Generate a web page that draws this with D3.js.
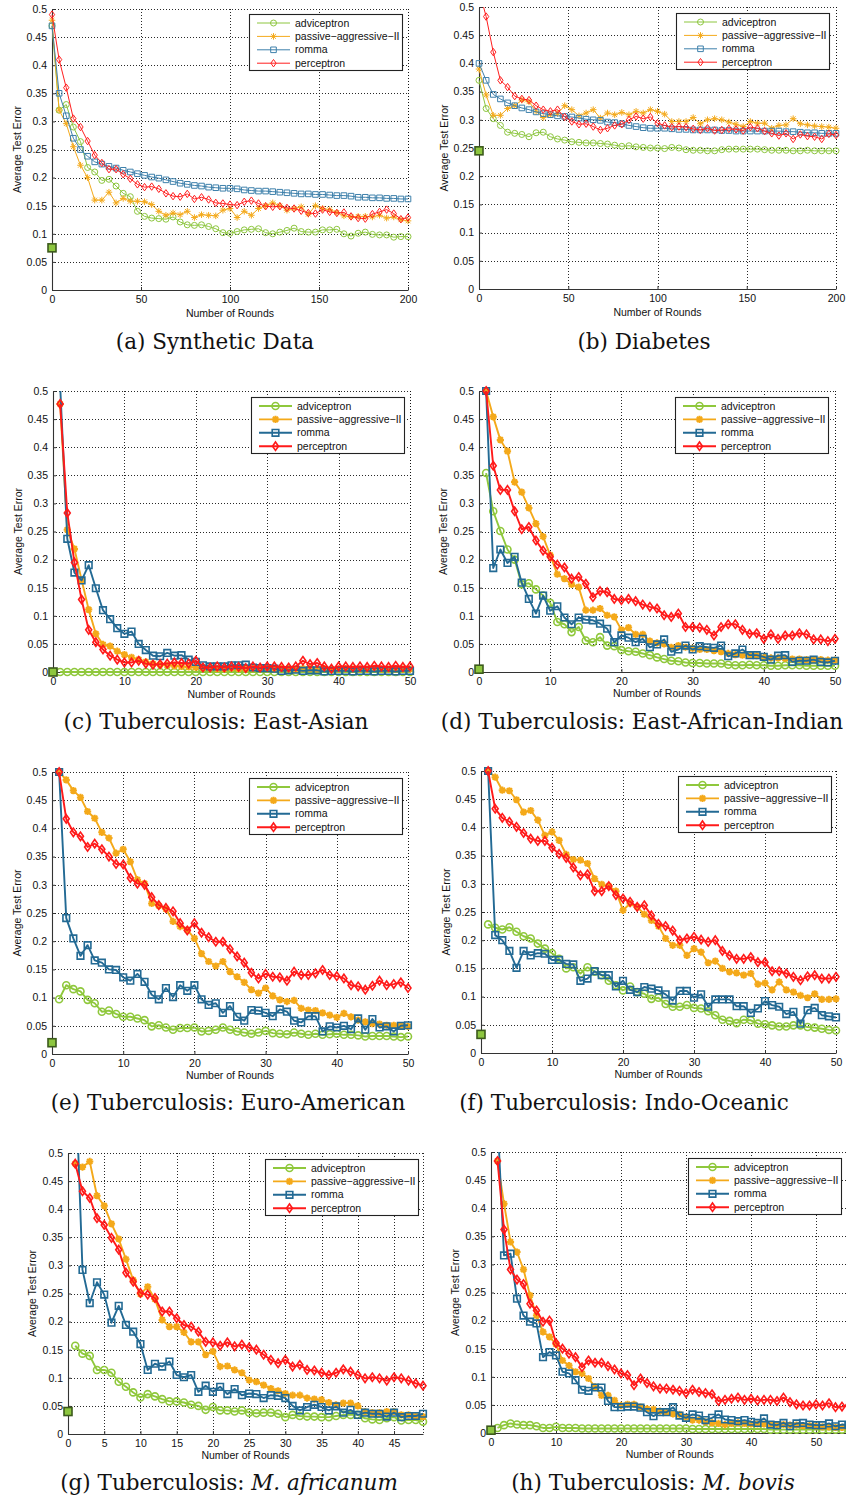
<!DOCTYPE html>
<html>
<head>
<meta charset="utf-8">
<script src="https://cdn.jsdelivr.net/npm/d3@7/dist/d3.min.js"></script>
<style>
  body { margin: 0; background: #fff; }
  svg { display: block; }
</style>
</head>
<body>
<div id="chart"></div>
<script>
// ---- data ----
// (a),(b): one value every 4 rounds from round 0; (c)-(h): one value per round from round 1
var seriesNames = ['adviceptron', 'passive\u2212aggressive\u2212II', 'romma', 'perceptron'];
var yTicks = [0, 0.05, 0.1, 0.15, 0.2, 0.25, 0.3, 0.35, 0.4, 0.45, 0.5];
var yTickLabels = ['0', '0.05', '0.1', '0.15', '0.2', '0.25', '0.3', '0.35', '0.4', '0.45', '0.5'];
var xTicksLong = [0, 50, 100, 150, 200];
var xTicksTen = [0, 10, 20, 30, 40, 50];
var xTicksFive = [0, 5, 10, 15, 20, 25, 30, 35, 40, 45];

// (a) Synthetic Data
var aAdvice = [0.47,0.32,0.33,0.29,0.264,0.218,0.21,0.195,0.197,0.185,0.172,0.166,0.14,0.131,0.128,0.127,0.126,0.13,0.121,0.116,0.115,0.116,0.113,0.109,0.102,0.101,0.104,0.107,0.108,0.109,0.102,0.1,0.103,0.106,0.11,0.104,0.103,0.103,0.107,0.107,0.108,0.1,0.096,0.101,0.103,0.099,0.098,0.098,0.094,0.095,0.095];
var aPA = [0.48,0.32,0.296,0.255,0.222,0.2,0.16,0.16,0.174,0.155,0.163,0.158,0.158,0.157,0.152,0.14,0.133,0.137,0.134,0.14,0.129,0.134,0.133,0.132,0.142,0.145,0.129,0.14,0.133,0.145,0.15,0.155,0.15,0.142,0.145,0.148,0.135,0.15,0.145,0.143,0.138,0.132,0.13,0.131,0.131,0.13,0.133,0.128,0.13,0.125,0.123];
var aRomma = [0.47,0.35,0.31,0.27,0.25,0.238,0.228,0.224,0.22,0.217,0.213,0.21,0.207,0.204,0.201,0.199,0.196,0.193,0.19,0.188,0.186,0.185,0.183,0.182,0.181,0.181,0.18,0.178,0.177,0.176,0.176,0.175,0.174,0.173,0.172,0.171,0.171,0.17,0.17,0.169,0.168,0.168,0.167,0.165,0.165,0.164,0.164,0.163,0.163,0.162,0.162];
var aPerc = [0.49,0.41,0.36,0.305,0.29,0.265,0.24,0.226,0.215,0.215,0.206,0.198,0.188,0.183,0.184,0.18,0.172,0.167,0.166,0.171,0.162,0.165,0.161,0.155,0.154,0.152,0.151,0.157,0.159,0.154,0.149,0.148,0.149,0.146,0.145,0.141,0.137,0.136,0.143,0.139,0.137,0.138,0.131,0.128,0.127,0.135,0.139,0.143,0.136,0.126,0.129];
var aStart = 0.075;

// (b) Diabetes
var bAdvice = [0.37,0.32,0.302,0.29,0.278,0.276,0.274,0.27,0.277,0.278,0.27,0.266,0.264,0.261,0.26,0.259,0.259,0.258,0.257,0.255,0.253,0.254,0.252,0.251,0.25,0.25,0.249,0.251,0.25,0.247,0.246,0.246,0.245,0.245,0.247,0.248,0.248,0.248,0.248,0.248,0.247,0.246,0.246,0.246,0.245,0.245,0.246,0.245,0.245,0.245,0.245];
var bPA = [0.39,0.344,0.308,0.308,0.32,0.325,0.335,0.332,0.315,0.304,0.309,0.311,0.325,0.318,0.307,0.312,0.318,0.303,0.312,0.309,0.313,0.309,0.315,0.312,0.318,0.315,0.31,0.297,0.297,0.297,0.304,0.293,0.3,0.302,0.3,0.296,0.292,0.288,0.297,0.294,0.294,0.285,0.29,0.291,0.302,0.293,0.291,0.289,0.288,0.287,0.285];
var bRomma = [0.4,0.37,0.345,0.337,0.33,0.325,0.321,0.318,0.314,0.311,0.309,0.307,0.306,0.305,0.303,0.301,0.3,0.299,0.296,0.295,0.293,0.29,0.288,0.286,0.285,0.285,0.285,0.284,0.283,0.283,0.282,0.282,0.282,0.282,0.281,0.281,0.28,0.28,0.28,0.28,0.28,0.28,0.28,0.279,0.279,0.278,0.277,0.277,0.276,0.276,0.276];
var bPerc = [0.53,0.483,0.42,0.37,0.358,0.342,0.337,0.335,0.325,0.318,0.315,0.318,0.305,0.297,0.292,0.293,0.288,0.282,0.285,0.29,0.292,0.3,0.306,0.302,0.305,0.294,0.29,0.287,0.288,0.287,0.284,0.282,0.285,0.281,0.282,0.284,0.283,0.281,0.287,0.285,0.28,0.276,0.272,0.276,0.266,0.274,0.271,0.27,0.266,0.275,0.273];
var bStart = 0.245;

// (c) East-Asian
var cAdvice = [0,0,0,0,0,0,0,0,0,0,0,0,0,0,0,0,0,0,0,0,0,0,0,0,0,0,0,0,0,0,0,0,0,0,0,0,0,0,0,0,0,0,0,0,0,0,0,0,0,0];
var cPA = [0.477,0.253,0.219,0.164,0.111,0.068,0.049,0.046,0.037,0.031,0.026,0.022,0.018,0.015,0.013,0.012,0.011,0.01,0.009,0.008,0.007,0.007,0.006,0.006,0.007,0.006,0.006,0.006,0.006,0.006,0.005,0.006,0.006,0.005,0.006,0.006,0.005,0.006,0.005,0.005,0.006,0.005,0.005,0.005,0.006,0.005,0.005,0.005,0.005,0.005];
var cRomma = [0.51,0.237,0.177,0.163,0.19,0.149,0.11,0.094,0.078,0.068,0.072,0.05,0.039,0.029,0.028,0.034,0.029,0.03,0.022,0.018,0.012,0.01,0.01,0.01,0.012,0.012,0.013,0.008,0.007,0.007,0.006,0.002,0.003,0.004,0.002,0.003,0.003,0.001,0.002,0.002,0.002,0.001,0.002,0.002,0.001,0.002,0.002,0.001,0.002,0.002];
var cPerc = [0.477,0.283,0.195,0.129,0.075,0.053,0.04,0.029,0.022,0.017,0.017,0.02,0.015,0.013,0.014,0.015,0.017,0.016,0.015,0.02,0.008,0.008,0.01,0.008,0.01,0.009,0.007,0.01,0.008,0.01,0.01,0.009,0.008,0.01,0.02,0.014,0.016,0.01,0.006,0.01,0.01,0.009,0.01,0.009,0.011,0.01,0.009,0.011,0.009,0.01];
var cStart = 0;

// (d) East-African-Indian
var dAdvice = [0.354,0.286,0.251,0.218,0.2,0.156,0.158,0.147,0.136,0.123,0.089,0.085,0.071,0.08,0.056,0.053,0.062,0.047,0.046,0.039,0.037,0.036,0.033,0.03,0.026,0.023,0.02,0.019,0.017,0.016,0.016,0.015,0.015,0.015,0.013,0.012,0.012,0.013,0.012,0.012,0.011,0.011,0.012,0.012,0.012,0.011,0.011,0.011,0.011,0.011];
var dPA = [0.5,0.454,0.413,0.393,0.338,0.32,0.292,0.264,0.241,0.208,0.174,0.166,0.156,0.151,0.11,0.11,0.113,0.101,0.098,0.075,0.079,0.067,0.067,0.055,0.052,0.05,0.044,0.047,0.044,0.042,0.04,0.04,0.038,0.036,0.033,0.031,0.03,0.03,0.029,0.027,0.025,0.025,0.024,0.023,0.023,0.022,0.022,0.022,0.021,0.021];
var dRomma = [0.5,0.185,0.218,0.194,0.205,0.159,0.13,0.104,0.136,0.109,0.117,0.097,0.085,0.097,0.093,0.092,0.086,0.077,0.053,0.065,0.061,0.053,0.059,0.044,0.049,0.058,0.036,0.04,0.047,0.04,0.046,0.044,0.043,0.047,0.028,0.033,0.04,0.03,0.03,0.027,0.022,0.029,0.03,0.018,0.02,0.02,0.022,0.018,0.017,0.02];
var dPerc = [0.5,0.367,0.324,0.324,0.286,0.254,0.258,0.234,0.216,0.205,0.191,0.186,0.166,0.169,0.157,0.133,0.144,0.142,0.13,0.128,0.13,0.126,0.12,0.116,0.113,0.101,0.098,0.104,0.08,0.08,0.079,0.075,0.065,0.08,0.085,0.085,0.075,0.068,0.069,0.059,0.067,0.059,0.065,0.065,0.069,0.067,0.058,0.058,0.055,0.059];
var dStart = 0.005;

// (e) Euro-American
var eAdvice = [0.097,0.122,0.115,0.111,0.096,0.09,0.075,0.077,0.071,0.066,0.066,0.063,0.06,0.049,0.051,0.047,0.043,0.046,0.046,0.047,0.04,0.041,0.043,0.047,0.043,0.04,0.038,0.036,0.038,0.041,0.037,0.036,0.035,0.038,0.036,0.034,0.036,0.034,0.035,0.036,0.034,0.034,0.033,0.031,0.032,0.032,0.032,0.031,0.03,0.031];
var ePA = [0.5,0.486,0.467,0.455,0.43,0.418,0.393,0.383,0.356,0.363,0.341,0.309,0.302,0.267,0.263,0.257,0.235,0.226,0.22,0.205,0.178,0.164,0.156,0.164,0.146,0.137,0.127,0.114,0.108,0.117,0.103,0.096,0.093,0.095,0.081,0.078,0.077,0.073,0.069,0.065,0.072,0.066,0.06,0.057,0.054,0.053,0.051,0.051,0.05,0.049];
var eRomma = [0.5,0.241,0.205,0.174,0.193,0.166,0.162,0.15,0.149,0.136,0.13,0.142,0.128,0.105,0.097,0.117,0.101,0.122,0.112,0.122,0.097,0.087,0.09,0.073,0.085,0.066,0.059,0.078,0.077,0.073,0.067,0.079,0.075,0.059,0.056,0.067,0.067,0.04,0.049,0.047,0.05,0.044,0.063,0.043,0.062,0.047,0.049,0.04,0.05,0.051];
var ePerc = [0.5,0.417,0.393,0.386,0.367,0.373,0.363,0.35,0.337,0.336,0.312,0.302,0.3,0.278,0.264,0.259,0.253,0.232,0.219,0.232,0.215,0.207,0.199,0.199,0.186,0.173,0.162,0.144,0.134,0.142,0.137,0.136,0.13,0.146,0.14,0.14,0.143,0.149,0.14,0.138,0.134,0.122,0.12,0.114,0.121,0.13,0.122,0.124,0.127,0.117];
var eStart = 0.02;

// (f) Indo-Oceanic
var fAdvice = [0.228,0.222,0.219,0.223,0.215,0.207,0.203,0.194,0.185,0.177,0.167,0.15,0.152,0.141,0.152,0.144,0.138,0.128,0.12,0.111,0.118,0.108,0.105,0.096,0.098,0.087,0.082,0.082,0.085,0.08,0.079,0.074,0.067,0.059,0.057,0.053,0.059,0.058,0.052,0.051,0.049,0.047,0.047,0.049,0.049,0.046,0.045,0.043,0.041,0.04];
var fPA = [0.5,0.489,0.466,0.465,0.449,0.427,0.43,0.413,0.386,0.392,0.377,0.352,0.343,0.342,0.336,0.309,0.299,0.296,0.287,0.253,0.265,0.259,0.246,0.235,0.225,0.203,0.191,0.191,0.173,0.185,0.179,0.16,0.163,0.15,0.144,0.142,0.138,0.141,0.122,0.124,0.112,0.126,0.112,0.108,0.102,0.098,0.105,0.095,0.095,0.096];
var fRomma = [0.5,0.209,0.2,0.181,0.151,0.181,0.173,0.177,0.176,0.165,0.165,0.158,0.157,0.128,0.132,0.145,0.138,0.138,0.118,0.128,0.112,0.108,0.117,0.114,0.111,0.104,0.093,0.11,0.11,0.098,0.104,0.082,0.095,0.095,0.095,0.083,0.083,0.071,0.079,0.092,0.085,0.082,0.069,0.073,0.052,0.076,0.08,0.067,0.065,0.063];
var fPerc = [0.5,0.433,0.417,0.41,0.401,0.39,0.38,0.376,0.376,0.364,0.353,0.346,0.329,0.315,0.317,0.287,0.287,0.296,0.28,0.274,0.268,0.259,0.262,0.244,0.229,0.225,0.217,0.2,0.203,0.206,0.201,0.197,0.2,0.181,0.173,0.167,0.167,0.17,0.161,0.161,0.145,0.145,0.141,0.135,0.129,0.136,0.138,0.132,0.132,0.135];
var fStart = 0.033;

// (g) M. africanum
var gAdvice = [0.157,0.143,0.139,0.114,0.114,0.109,0.093,0.084,0.074,0.065,0.071,0.067,0.062,0.058,0.058,0.056,0.052,0.05,0.043,0.048,0.042,0.042,0.04,0.042,0.038,0.037,0.038,0.038,0.036,0.03,0.034,0.032,0.031,0.031,0.03,0.03,0.032,0.034,0.034,0.034,0.028,0.026,0.025,0.028,0.03,0.024,0.025,0.025,0.022];
var gPA = [0.481,0.475,0.485,0.424,0.406,0.374,0.347,0.311,0.274,0.249,0.262,0.24,0.203,0.191,0.191,0.181,0.164,0.164,0.141,0.147,0.12,0.121,0.114,0.109,0.096,0.093,0.087,0.081,0.077,0.072,0.069,0.069,0.064,0.062,0.061,0.056,0.052,0.055,0.055,0.05,0.04,0.038,0.038,0.04,0.04,0.034,0.034,0.032,0.031];
var gRomma = [0.65,0.292,0.233,0.27,0.248,0.198,0.228,0.194,0.182,0.16,0.114,0.125,0.12,0.129,0.105,0.101,0.105,0.075,0.086,0.075,0.084,0.071,0.08,0.069,0.072,0.071,0.064,0.069,0.068,0.064,0.05,0.042,0.048,0.052,0.048,0.042,0.049,0.038,0.043,0.034,0.038,0.036,0.036,0.031,0.038,0.03,0.032,0.032,0.036];
var gPerc = [0.481,0.432,0.42,0.384,0.372,0.349,0.328,0.287,0.271,0.251,0.248,0.242,0.218,0.218,0.206,0.194,0.191,0.182,0.164,0.163,0.157,0.163,0.156,0.159,0.154,0.15,0.141,0.132,0.126,0.132,0.12,0.123,0.114,0.113,0.109,0.105,0.109,0.115,0.111,0.105,0.099,0.101,0.099,0.095,0.101,0.099,0.095,0.09,0.086];
var gStart = 0.04;

// (h) M. bovis
var hAdvice = [0.009,0.014,0.017,0.015,0.014,0.014,0.012,0.009,0.009,0.011,0.009,0.009,0.009,0.008,0.008,0.008,0.008,0.008,0.008,0.008,0.008,0.008,0.008,0.008,0.008,0.008,0.008,0.008,0.008,0.008,0.007,0.007,0.007,0.007,0.007,0.007,0.007,0.007,0.007,0.007,0.007,0.007,0.006,0.006,0.006,0.006,0.006,0.006,0.006,0.006,0.006,0.006,0.006,0.006,0.006];
var hPA = [0.484,0.408,0.34,0.322,0.291,0.245,0.209,0.18,0.171,0.158,0.129,0.12,0.109,0.106,0.097,0.082,0.067,0.067,0.058,0.049,0.051,0.051,0.046,0.043,0.042,0.039,0.037,0.034,0.033,0.028,0.023,0.023,0.02,0.018,0.017,0.015,0.017,0.018,0.017,0.016,0.016,0.016,0.015,0.015,0.015,0.014,0.014,0.013,0.013,0.012,0.011,0.011,0.01,0.01,0.01];
var hRomma = [0.56,0.316,0.319,0.239,0.209,0.198,0.195,0.135,0.144,0.138,0.109,0.106,0.094,0.077,0.075,0.081,0.081,0.057,0.046,0.046,0.047,0.047,0.045,0.037,0.03,0.037,0.037,0.046,0.031,0.027,0.033,0.031,0.023,0.027,0.033,0.024,0.023,0.021,0.023,0.02,0.018,0.026,0.015,0.014,0.018,0.012,0.017,0.018,0.015,0.014,0.014,0.017,0.012,0.015,0.014];
var hPerc = [0.484,0.362,0.291,0.273,0.265,0.23,0.218,0.198,0.2,0.16,0.15,0.141,0.135,0.117,0.129,0.125,0.125,0.119,0.113,0.106,0.103,0.085,0.097,0.089,0.083,0.079,0.079,0.077,0.075,0.071,0.077,0.073,0.071,0.069,0.057,0.059,0.061,0.063,0.059,0.061,0.058,0.059,0.059,0.057,0.063,0.055,0.051,0.049,0.049,0.051,0.049,0.053,0.046,0.047,0.049];
var hStart = 0.005;

// ---- layout ----
var width = 846, height = 1499;

var panels = [
  { series: [aAdvice, aPA, aRomma, aPerc], start: aStart, first: 0, step: 4, xMax: 200, xTicks: xTicksLong, thin: true,
    box: [52, 408, 9, 290], ylabX: 17, xlabY: 313, legend: [249, 14], caption: [['(a) Synthetic Data', false]], cap: [215, 349] },
  { series: [bAdvice, bPA, bRomma, bPerc], start: bStart, first: 0, step: 4, xMax: 200, xTicks: xTicksLong, thin: true,
    box: [479, 836, 7, 289], ylabX: 444, xlabY: 312, legend: [676, 13], caption: [['(b) Diabetes', false]], cap: [644, 349] },
  { series: [cAdvice, cPA, cRomma, cPerc], start: cStart, first: 1, step: 1, xMax: 50, xTicks: xTicksTen, thin: false,
    box: [53, 410, 391, 672], ylabX: 18, xlabY: 694, legend: [251, 397], caption: [['(c) Tuberculosis: East-Asian', false]], cap: [216, 729] },
  { series: [dAdvice, dPA, dRomma, dPerc], start: dStart, first: 1, step: 1, xMax: 50, xTicks: xTicksTen, thin: false,
    box: [479, 835, 391, 672], ylabX: 443, xlabY: 693, legend: [675, 397], caption: [['(d) Tuberculosis: East-African-Indian', false]], cap: [642, 729] },
  { series: [eAdvice, ePA, eRomma, ePerc], start: eStart, first: 1, step: 1, xMax: 50, xTicks: xTicksTen, thin: false,
    box: [52, 408, 772, 1054], ylabX: 17, xlabY: 1075, legend: [249, 778], caption: [['(e) Tuberculosis: Euro-American', false]], cap: [228, 1110] },
  { series: [fAdvice, fPA, fRomma, fPerc], start: fStart, first: 1, step: 1, xMax: 50, xTicks: xTicksTen, thin: false,
    box: [481, 836, 771, 1053], ylabX: 446, xlabY: 1074, legend: [678, 776], caption: [['(f) Tuberculosis: Indo-Oceanic', false]], cap: [624, 1110] },
  { series: [gAdvice, gPA, gRomma, gPerc], start: gStart, first: 1, step: 1, xMax: 49, xTicks: xTicksFive, thin: false,
    box: [68, 423, 1153, 1434], ylabX: 32, xlabY: 1455, legend: [265, 1159], caption: [['(g) Tuberculosis: ', false], ['M. africanum', true]], cap: [229, 1490] },
  { series: [hAdvice, hPA, hRomma, hPerc], start: hStart, first: 1, step: 1, xMax: 55, xTicks: xTicksTen, thin: false,
    box: [491, 848.5, 1152, 1433], ylabX: 455, xlabY: 1454, legend: [688, 1158], caption: [['(h) Tuberculosis: ', false], ['M. bovis', true]], cap: [653, 1490] }
];

var thinColors = ['#8dc63f', '#f4aa1c', '#3e80ab', '#ff1f1f'];
var thickColors = ['#8fc83c', '#f4a91a', '#236a94', '#ff1a1a'];
var shapes = ['circle', 'star', 'square', 'diamond'];

function markerPath(shape, s) {
  if (shape === 'circle')
    return 'M' + s + ',0A' + s + ',' + s + ' 0 1,1 ' + (-s) + ',0A' + s + ',' + s + ' 0 1,1 ' + s + ',0Z';
  if (shape === 'star') {
    var k = s * 0.72;
    return 'M' + (-s) + ',0H' + s + 'M0,' + (-s) + 'V' + s +
      'M' + (-k) + ',' + (-k) + 'L' + k + ',' + k + 'M' + (-k) + ',' + k + 'L' + k + ',' + (-k);
  }
  if (shape === 'square')
    return 'M' + (-s) + ',' + (-s) + 'H' + s + 'V' + s + 'H' + (-s) + 'Z';
  // diamond, a bit taller than wide
  return 'M0,' + (-s * 1.2) + 'L' + (s * 0.85) + ',0L0,' + (s * 1.2) + 'L' + (-s * 0.85) + ',0Z';
}

var svg = d3.select('#chart').append('svg')
  .attr('width', width).attr('height', height)
  .attr('viewBox', '0 0 ' + width + ' ' + height)
  .style('font-family', '"Liberation Sans", Arial, Helvetica, sans-serif');

svg.append('rect').attr('width', width).attr('height', height).attr('fill', '#fff');

panels.forEach(function(p, pi) {
  var x0 = p.box[0], x1 = p.box[1], yt = p.box[2], yb = p.box[3];
  var colors = p.thin ? thinColors : thickColors;
  var lw = p.thin ? 1 : 1.9;
  var msw = p.thin ? 1 : 1.6;
  var msz = p.thin ? [3, 3.3, 2.8, 3.1] : [3.5, 3.6, 3.3, 3.5];

  var x = d3.scaleLinear().domain([0, p.xMax]).range([x0, x1]);
  var y = d3.scaleLinear().domain([0, 0.5]).range([yb, yt]);

  var g = svg.append('g').attr('class', 'panel');

  // dotted grid
  var grid = g.append('g').attr('class', 'grid')
    .attr('stroke', '#111').attr('stroke-width', 0.9).attr('stroke-dasharray', '1,2');
  grid.selectAll('.gy').data(yTicks.slice(1)).enter().append('line')
    .attr('x1', x0).attr('x2', x1)
    .attr('y1', function(d) { return Math.round(y(d)) + 0.5; })
    .attr('y2', function(d) { return Math.round(y(d)) + 0.5; });
  var gx = p.xTicks.slice(1).concat([p.xMax]);
  grid.selectAll('.gx').data(gx).enter().append('line')
    .attr('x1', function(d) { return Math.round(x(d)) + 0.5; })
    .attr('x2', function(d) { return Math.round(x(d)) + 0.5; })
    .attr('y1', yt).attr('y2', yb);

  // axes
  var yAxis = d3.axisLeft(y).tickValues(yTicks)
    .tickFormat(function(d, i) { return yTickLabels[i]; })
    .tickSizeInner(-3).tickSizeOuter(0).tickPadding(5);
  var ya = g.append('g').attr('transform', 'translate(' + x0 + ',0)').call(yAxis);

  var xAxis = d3.axisBottom(x).tickValues(p.xTicks)
    .tickFormat(function(d) { return String(d); })
    .tickSizeInner(-3).tickSizeOuter(0).tickPadding(6);
  var xa = g.append('g').attr('transform', 'translate(0,' + yb + ')').call(xAxis);

  [ya, xa].forEach(function(a) {
    a.select('.domain').attr('stroke', '#333').attr('stroke-width', 1.1);
    a.selectAll('.tick line').attr('stroke', '#333');
    a.selectAll('text').attr('font-size', 10.5).attr('fill', '#111')
      .attr('font-family', '"Liberation Sans", Arial, sans-serif');
  });

  // axis titles
  g.append('text')
    .attr('transform', 'translate(' + p.ylabX + ',' + ((yt + yb) / 2) + ') rotate(-90)')
    .attr('text-anchor', 'middle').attr('dy', '0.35em')
    .attr('font-size', 10.5).attr('fill', '#111')
    .text('Average Test Error');
  g.append('text')
    .attr('x', (x0 + x1) / 2)
    .attr('y', p.xlabY).attr('dy', '0.35em')
    .attr('text-anchor', 'middle')
    .attr('font-size', 10.5).attr('fill', '#111')
    .text('Number of Rounds');

  // clip for lines
  var clipId = 'clip' + pi;
  svg.append('clipPath').attr('id', clipId).append('rect')
    .attr('x', x0 - 3).attr('y', yt).attr('width', x1 - x0 + 8).attr('height', yb - yt + 6);

  var plot = g.append('g');

  p.series.forEach(function(vals, si) {
    var pts = vals.map(function(v, i) { return { r: p.first + i * p.step, v: v }; });
    var line = d3.line().x(function(d) { return x(d.r); }).y(function(d) { return y(d.v); });
    var sg = plot.append('g');
    sg.append('path')
      .attr('d', line(pts))
      .attr('clip-path', 'url(#' + clipId + ')')
      .attr('fill', 'none').attr('stroke', colors[si])
      .attr('stroke-width', lw).attr('stroke-linejoin', 'round');
    sg.selectAll('path.m').data(pts.filter(function(d) { return d.v <= 0.5001; }))
      .enter().append('path').attr('class', 'm')
      .attr('transform', function(d) { return 'translate(' + x(d.r) + ',' + y(d.v) + ')'; })
      .attr('d', markerPath(shapes[si], msz[si]))
      .attr('fill', 'none').attr('stroke', colors[si])
      .attr('stroke-width', si === 1 && !p.thin ? 2 : msw);
  });

  // starting point marker at round 0
  g.append('rect')
    .attr('x', x(0) - 4).attr('y', y(p.start) - 4)
    .attr('width', 8).attr('height', 8)
    .attr('fill', '#8dc63f').attr('stroke', '#3c5a1c').attr('stroke-width', 1.6);

  // legend
  var lx = p.legend[0], ly = p.legend[1];
  var leg = g.append('g').attr('transform', 'translate(' + lx + ',' + ly + ')');
  leg.append('rect').attr('x', 0.5).attr('y', 0.5).attr('width', 153).attr('height', 56)
    .attr('fill', '#fff').attr('stroke', '#222').attr('stroke-width', 1.1);
  seriesNames.forEach(function(name, si) {
    var ey = 9 + si * 13.4;
    leg.append('line').attr('x1', 8).attr('x2', 41).attr('y1', ey).attr('y2', ey)
      .attr('stroke', colors[si]).attr('stroke-width', lw);
    leg.append('path').attr('transform', 'translate(24.5,' + ey + ')')
      .attr('d', markerPath(shapes[si], msz[si]))
      .attr('fill', 'none').attr('stroke', colors[si])
      .attr('stroke-width', si === 1 && !p.thin ? 2 : msw);
    leg.append('text').attr('x', 46).attr('y', ey).attr('dy', '0.35em')
      .attr('font-size', 10.5).attr('fill', '#111').text(name);
  });

  // caption
  var cap = svg.append('text')
    .attr('x', p.cap[0]).attr('y', p.cap[1])
    .attr('text-anchor', 'middle')
    .attr('font-family', '"DejaVu Serif", "Liberation Serif", serif')
    .attr('font-size', 21.5).attr('fill', '#111');
  p.caption.forEach(function(part) {
    cap.append('tspan').attr('font-style', part[1] ? 'italic' : 'normal').text(part[0]);
  });
});
</script>
</body>
</html>
